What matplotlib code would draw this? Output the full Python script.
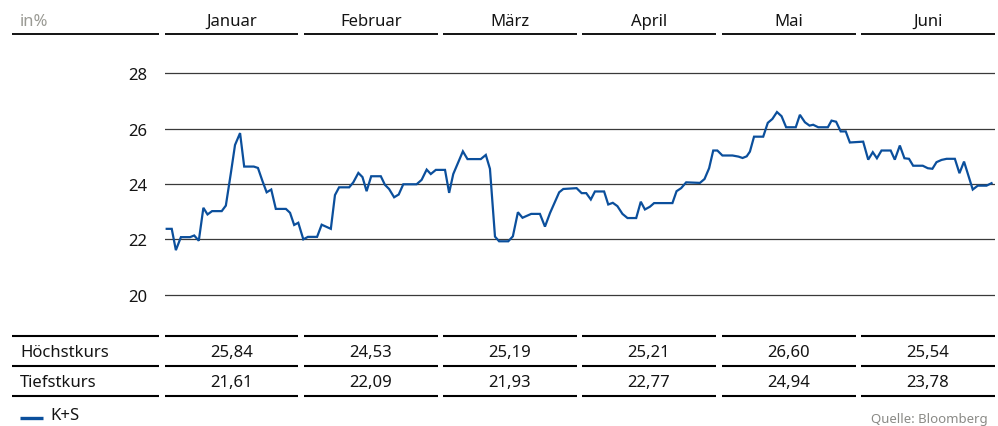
import matplotlib
matplotlib.use('Agg')
import matplotlib.pyplot as plt
from matplotlib.lines import Line2D

plt.rcParams['font.family'] = ['Noto Sans', 'DejaVu Sans']

# K+S closing prices (calendar day since 1 Jan, price in EUR)
days = [0.0, 1.1, 2.0, 3.1, 5.1, 6.0, 7.0, 8.0, 8.9, 9.9, 12.0, 12.9, 14.0, 14.9, 16.0,
        16.9, 19.0, 19.9, 20.9, 21.8, 22.8, 23.8, 26.0, 26.9, 27.8, 28.7, 29.8, 30.8,
        32.8, 33.8, 35.8, 36.7, 37.6, 39.8, 40.7, 41.8, 42.7, 43.6, 44.6, 46.7, 47.6,
        48.5, 49.6, 50.6, 51.6, 54.5, 55.6, 56.7, 57.6, 58.7, 60.7, 61.6, 62.5, 64.6,
        65.6, 68.5, 69.6, 70.5, 71.6, 72.5, 74.5, 75.5, 76.6, 77.6, 79.5, 81.4, 82.5,
        83.6, 85.6, 86.5, 89.4, 90.5, 91.5, 92.5, 93.4, 95.4, 96.3, 97.3, 98.3, 99.4,
        100.5, 102.4, 103.4, 104.3, 105.4, 106.3, 110.3, 111.2, 112.2, 113.3, 116.3,
        117.3, 118.3, 119.2, 120.1, 121.2, 123.4, 124.7, 125.6, 126.5, 127.2, 128.1,
        130.1, 131.1, 132.1, 133.1, 134.1, 135.1, 137.2, 138.1, 139.2, 140.2, 141.0,
        142.1, 144.2, 145.0, 146.0, 147.0, 148.1, 149.0, 151.9, 153.0, 154.0, 154.9,
        155.9, 157.9, 158.8, 159.9, 160.9, 161.9, 162.8, 164.9, 166.0, 167.0, 167.9,
        169.0, 170.1, 171.9, 172.9, 173.9, 175.8, 176.9, 178.8, 179.9]
prices = [22.38, 22.38, 21.61, 22.08, 22.08, 22.14, 21.95, 23.14, 22.90, 23.02, 23.02, 23.22,
          24.40, 25.41, 25.84, 24.63, 24.63, 24.58, 24.10, 23.70, 23.80, 23.10, 23.10, 22.96,
          22.52, 22.60, 22.00, 22.09, 22.09, 22.53, 22.38, 23.60, 23.88, 23.88, 24.06, 24.40,
          24.25, 23.74, 24.28, 24.28, 23.97, 23.82, 23.52, 23.62, 23.99, 23.99, 24.15, 24.52,
          24.36, 24.51, 24.51, 23.68, 24.36, 25.18, 24.90, 24.90, 25.05, 24.55, 22.10, 21.93,
          21.93, 22.11, 22.98, 22.78, 22.92, 22.92, 22.46, 22.95, 23.70, 23.82, 23.85, 23.67,
          23.67, 23.44, 23.73, 23.73, 23.26, 23.32, 23.20, 22.92, 22.77, 22.77, 23.36, 23.08,
          23.18, 23.31, 23.31, 23.74, 23.85, 24.06, 24.04, 24.18, 24.57, 25.21, 25.21, 25.03,
          25.03, 24.99, 24.94, 25.00, 25.17, 25.71, 25.71, 26.21, 26.35, 26.60, 26.45, 26.05,
          26.05, 26.50, 26.23, 26.11, 26.14, 26.05, 26.05, 26.29, 26.25, 25.90, 25.90, 25.50,
          25.53, 24.88, 25.15, 24.93, 25.21, 25.21, 24.88, 25.39, 24.93, 24.91, 24.66, 24.66,
          24.57, 24.55, 24.79, 24.87, 24.91, 24.91, 24.39, 24.81, 23.80, 23.94, 23.94, 24.03]

months = ['Januar', 'Februar', 'März', 'April', 'Mai', 'Juni']
high = ['25,84', '24,53', '25,19', '25,21', '26,60', '25,54']
low = ['21,61', '22,09', '21,93', '22,77', '24,94', '23,78']
yticks = [20, 22, 24, 26, 28]

W, H = 998, 427
blue = '#0b4f9c'
grey = '#9a9a94'
ink = '#141414'

fig = plt.figure(figsize=(W / 100, H / 100), dpi=100)


def fx(px):
    return px / W


def fy(py):
    return 1 - py / H


# chart area in pixel terms: day 0 at x=166.7, 4.585 px per day; 28 at y=74.3, 27.7 px per unit
ax = fig.add_axes([fx(165), fy(310), fx(995) - fx(165), (310 - 60) / H])
ax.set_xlim(-1.7 / 4.585, (995 - 166.7) / 4.585)
ax.set_ylim(20 - 14.3 / 27.7, 28 + 14.3 / 27.7)
for v in yticks:
    ax.axhline(v, color='#3a3a3a', lw=0.9, zorder=1)
ax.plot(days, prices, color=blue, lw=1.6, zorder=3, solid_joinstyle='miter')
ax.set_yticks(yticks)
ax.set_yticklabels([str(v) for v in yticks], fontsize=12, color=ink)
ax.tick_params(axis='y', length=0, pad=13)
ax.set_xticks([])
for s in ax.spines.values():
    s.set_visible(False)
ax.patch.set_visible(False)

# column layout (label column + six month columns)
cols = [(12, 159), (165, 298), (304, 438), (443, 577), (582, 716), (722, 856), (861, 995)]


def seg_line(y, lw):
    for x0, x1 in cols:
        fig.add_artist(Line2D([fx(x0), fx(x1)], [fy(y), fy(y)], color='black', lw=lw,
                              transform=fig.transFigure, solid_capstyle='butt'))


# header
fig.text(fx(20), fy(22), 'in%', color=grey, fontsize=12, ha='left', va='center')
for (x0, x1), m in zip(cols[1:], months):
    fig.text(fx((x0 + x1) / 2), fy(22), m, fontsize=12, ha='center', va='center',
             color=ink)
seg_line(35, 1.3)

# table
seg_line(337, 1.5)
seg_line(367, 1.5)
seg_line(397, 1.5)
fig.text(fx(20), fy(353), 'Höchstkurs', fontsize=12, ha='left', va='center', color=ink)
fig.text(fx(20), fy(383), 'Tiefstkurs', fontsize=12, ha='left', va='center', color=ink)
for (x0, x1), h, l in zip(cols[1:], high, low):
    fig.text(fx((x0 + x1) / 2), fy(353), h, fontsize=12, ha='center', va='center',
             color=ink)
    fig.text(fx((x0 + x1) / 2), fy(383), l, fontsize=12, ha='center', va='center',
             color=ink)

# legend and source
fig.add_artist(Line2D([fx(20), fx(43)], [fy(419), fy(419)], color=blue, lw=2.4,
                      transform=fig.transFigure, solid_capstyle='butt'))
fig.text(fx(50), fy(416), 'K+S', fontsize=12, ha='left', va='center', color=ink)
fig.text(fx(988), fy(420), 'Quelle: Bloomberg', fontsize=9.5, ha='right', va='center',
         color='#8a8a86')

fig.savefig('out.png', dpi=100)
